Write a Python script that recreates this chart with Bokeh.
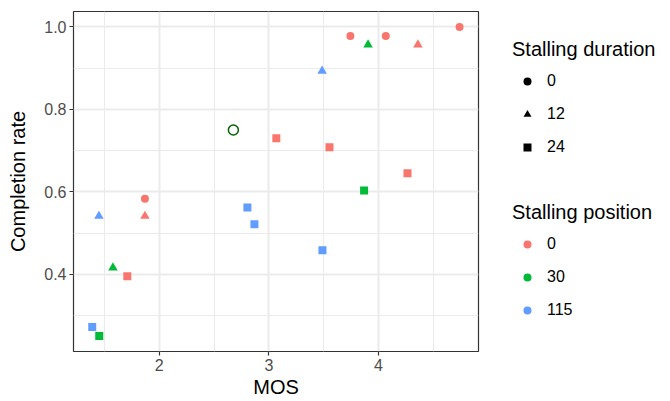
from bokeh.plotting import figure
from bokeh.layouts import row
from bokeh.models import (Range1d, FixedTicker, NumeralTickFormatter, Legend,
                          LegendItem, ColumnDataSource)
from bokeh.embed import file_html
from bokeh.resources import INLINE

# ---- data ----
mos = [4.74, 3.744, 4.067, 1.869,
       3.905, 1.577, 4.36, 1.869, 3.486, 1.449,
       3.068, 3.553, 4.265, 1.708, 3.869, 1.452, 2.804, 2.868, 3.489, 1.388]
completion = [1.000, 0.978, 0.978, 0.583,
              0.957, 0.416, 0.957, 0.541, 0.893, 0.541,
              0.730, 0.708, 0.645, 0.395, 0.603, 0.250, 0.562, 0.521, 0.458, 0.272]
duration = [0, 0, 0, 0,
            12, 12, 12, 12, 12, 12,
            24, 24, 24, 24, 24, 24, 24, 24, 24, 24]
position = [0, 0, 0, 0,
            30, 30, 0, 0, 115, 115,
            0, 0, 0, 0, 30, 30, 115, 115, 115, 115]
highlight_mos = [2.676]
highlight_completion = [0.750]

duration_levels = [0, 12, 24]
position_levels = [0, 30, 115]
x_ticks = [2, 3, 4]
x_minor = [1.5, 2.5, 3.5, 4.5]
y_ticks = [0.4, 0.6, 0.8, 1.0]
y_minor = [0.3, 0.5, 0.7, 0.9]

# ---- styles ----
marker_map = {0: "circle", 12: "triangle", 24: "square"}
size_map = {0: 8, 12: 9.5, 24: 8}
color_map = {0: "#F8766D", 30: "#00BA38", 115: "#619CFF"}
FONT = "Liberation Sans"
NAN = float("nan")

src = ColumnDataSource(dict(
    x=mos, y=completion,
    marker=[marker_map[d] for d in duration],
    size=[size_map[d] for d in duration],
    color=[color_map[q] for q in position],
))

p = figure(width=480, height=401, output_backend="svg", toolbar_location=None,
           x_range=Range1d(1.217, 4.913), y_range=Range1d(0.2125, 1.0375),
           min_border_left=73, min_border_right=2, min_border_top=11,
           min_border_bottom=50)

p.background_fill_color = "white"
p.border_fill_color = "white"
p.outline_line_color = "#333333"
p.outline_line_width = 1.2

p.xaxis.ticker = FixedTicker(ticks=x_ticks, minor_ticks=x_minor)
p.yaxis.ticker = FixedTicker(ticks=y_ticks, minor_ticks=y_minor)
p.yaxis.formatter = NumeralTickFormatter(format="0.0")

for g in (p.xgrid, p.ygrid):
    g.grid_line_color = "#EBEBEB"
    g.grid_line_width = 2
    g.minor_grid_line_color = "#EBEBEB"
    g.minor_grid_line_width = 1

for ax in (p.xaxis, p.yaxis):
    ax.axis_line_color = None
    ax.major_tick_line_color = "#333333"
    ax.major_tick_line_width = 1.2
    ax.major_tick_out = 4
    ax.major_tick_in = 0
    ax.minor_tick_line_color = None
    ax.major_label_text_font = FONT
    ax.major_label_text_font_size = "16px"
    ax.major_label_text_color = "#4D4D4D"
    ax.major_label_standoff = 3
    ax.axis_label_text_font = FONT
    ax.axis_label_text_font_size = "20px"
    ax.axis_label_text_font_style = "normal"
    ax.axis_label_text_color = "black"

p.xaxis.axis_label = "MOS"
p.yaxis.axis_label = "Completion rate"
p.xaxis.axis_label_standoff = 2
p.yaxis.axis_label_standoff = 12

p.scatter(x="x", y="y", marker="marker", size="size", fill_color="color",
          line_color=None, source=src)
p.scatter(x=highlight_mos, y=highlight_completion, marker="circle", size=10,
          fill_color=None, line_color="#006400", line_width=1.5)

# ---- legend panel (separate figure so the legends are not clipped) ----
lp = figure(width=190, height=401, output_backend="svg", toolbar_location=None,
            x_range=Range1d(0, 1), y_range=Range1d(0, 1),
            min_border_left=0, min_border_right=0, min_border_top=0,
            min_border_bottom=0)
lp.axis.visible = False
lp.grid.visible = False
lp.outline_line_color = None
lp.background_fill_color = "white"
lp.border_fill_color = "white"

# key renderers: a single NaN point each, so nothing is drawn in the panel
dur_items = []
for d in duration_levels:
    r = lp.scatter(x=[NAN], y=[NAN], marker=marker_map[d], size=8,
                   fill_color="black", line_color=None)
    dur_items.append(LegendItem(label=str(d), renderers=[r]))
pos_items = []
for q in position_levels:
    r = lp.scatter(x=[NAN], y=[NAN], marker="circle", size=8,
                   fill_color=color_map[q], line_color=None)
    pos_items.append(LegendItem(label=str(q), renderers=[r]))


def make_legend(title, items, loc):
    lg = Legend(items=items, title=title, location=loc,
                orientation="vertical")
    lg.title_text_font = FONT
    lg.title_text_font_size = "20px"
    lg.title_text_font_style = "normal"
    lg.title_text_color = "black"
    lg.title_standoff = 5
    lg.label_text_font = FONT
    lg.label_text_font_size = "16px"
    lg.label_text_color = "black"
    lg.glyph_width = 30
    lg.glyph_height = 20
    lg.label_height = 30
    lg.label_standoff = 5
    lg.spacing = 3
    lg.padding = 0
    lg.margin = 0
    lg.border_line_color = None
    lg.background_fill_alpha = 0
    return lg


lp.add_layout(make_legend("Stalling duration", dur_items, (32, 189)))
lp.add_layout(make_legend("Stalling position", pos_items, (32, 26)))

layout = row(p, lp, spacing=0)
open("out.html", "w").write(file_html(layout, INLINE))
